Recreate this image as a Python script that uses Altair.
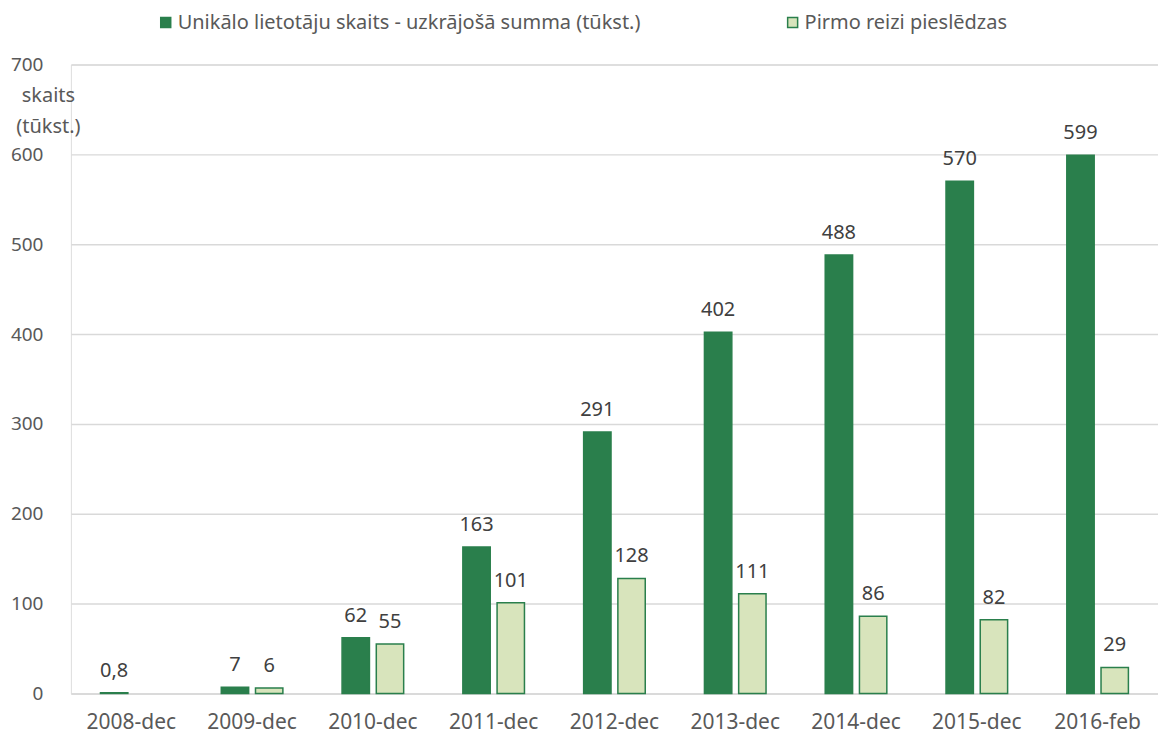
import altair as alt
import pandas as pd

categories = ["2008-dec", "2009-dec", "2010-dec", "2011-dec", "2012-dec",
              "2013-dec", "2014-dec", "2015-dec", "2016-feb"]
series_names = ["Unikālo lietotāju skaits - uzkrājošā summa (tūkst.)",
                "Pirmo reizi pieslēdzas"]
cumulative = [0.8, 7, 62, 163, 291, 402, 488, 570, 599]
first_time = [None, 6, 55, 101, 128, 111, 86, 82, 29]
y_ticks = [0, 100, 200, 300, 400, 500, 600, 700]

def fmt(v):
    if v is None:
        return None
    if float(v).is_integer():
        return str(int(v))
    return str(v).replace(".", ",")

rows = []
for c, a, b in zip(categories, cumulative, first_time):
    for s, v in zip(series_names, [a, b]):
        if v is not None:
            rows.append({"cat": c, "series": s, "value": v, "label": fmt(v)})
df = pd.DataFrame(rows)

FONT = "Noto Sans"
TXT = "#595959"
DARK = "#2A7F4C"
LIGHT = "#D8E4BC"

x = alt.X("cat:N", sort=categories, title=None,
          scale=alt.Scale(paddingInner=0.49, paddingOuter=0.245),
          axis=alt.Axis(labelAngle=0, ticks=False, domain=True, domainColor="#D9D9D9",
                        domainWidth=1.5, labelFontSize=21, labelColor=TXT,
                        labelFont=FONT, labelPadding=18))
xo = alt.XOffset("series:N", sort=series_names,
                 scale=alt.Scale(paddingInner=0.2, paddingOuter=0))
y = alt.Y("value:Q", scale=alt.Scale(domain=[0, 700], nice=False),
          axis=alt.Axis(values=y_ticks, ticks=False, domain=False, grid=True,
                        gridColor="#D9D9D9", gridWidth=1.5, labelFontSize=19,
                        labelColor=TXT, labelFont=FONT, labelPadding=28,
                        title=["skaits", "(tūkst.)"], titleAngle=0,
                        titleFontSize=20, titleFontWeight="normal", titleColor=TXT,
                        titleFont=FONT, titleAlign="center", titleBaseline="top",
                        titleX=-23, titleY=21, titleLineHeight=31))

bars = alt.Chart(df).mark_bar(strokeWidth=1.5).encode(
    x=x, xOffset=xo, y=y,
    fill=alt.Fill("series:N", sort=series_names,
                  scale=alt.Scale(domain=series_names, range=[DARK, LIGHT]),
                  legend=alt.Legend(title=None, orient="none", direction="horizontal",
                                    legendX=85, legendY=-52, symbolType="square",
                                    symbolSize=100, symbolStrokeWidth=1.5,
                                    labelFontSize=20, labelFont=FONT, labelColor=TXT,
                                    labelLimit=0, columnPadding=142, labelOffset=2)),
    stroke=alt.Stroke("series:N", sort=series_names,
                      scale=alt.Scale(domain=series_names, range=[DARK, DARK]),
                      legend=None),
)

labels = alt.Chart(df).mark_text(baseline="bottom", dy=-12, fontSize=20,
                                 font=FONT, color="#404040").encode(
    x=alt.X("cat:N", sort=categories), xOffset=xo, y="value:Q", text="label:N"
)

chart = alt.layer(bars, labels).properties(
    width=1089, height=630,
    autosize=alt.AutoSizeParams(type="none"),
    padding={"left": 63, "top": 56, "right": 0, "bottom": 40},
).configure_view(stroke=None).configure(background="white")

chart.save("out.html", embed_options={"renderer": "svg", "actions": False})
